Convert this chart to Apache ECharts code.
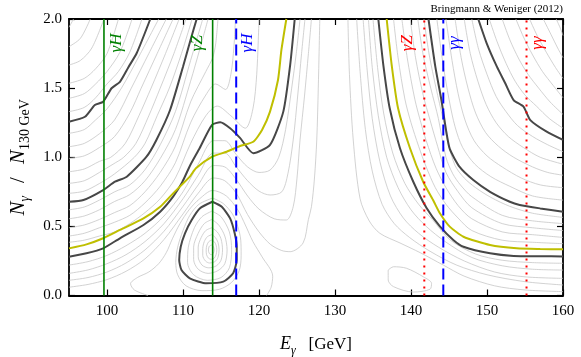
<!DOCTYPE html>
<html><head><meta charset="utf-8">
<script src="https://cdn.jsdelivr.net/npm/echarts@6/dist/echarts.min.js"></script>
<style>html,body{margin:0;padding:0;background:#fff}#c{width:581px;height:357px}</style>
</head><body><div id="c"></div>
<script>
// ---------- axes ----------
const xTickValues = [100,110,120,130,140,150,160];
const yTickValues = [0,0.5,1.0,1.5,2.0];

// ---------- vertical reference lines ----------
const greenLinesX = [99.6, 113.9];
const blueLinesX = [117.0, 144.25];
const redLinesX = [141.75, 155.2];
const greenLabels = ['γH','γZ'];
const blueLabels = ['γH','γγ'];
const redLabels = ['γZ','γγ'];

// ---------- thick dark contours ----------
const darkA = [[95.0,1.257],[97.1,1.293],[98.4,1.378],[99.5,1.402],[100.6,1.499],[101.7,1.546],[102.8,1.65],[103.9,1.752],[105.7,2.0]];
const darkB = [[95.0,0.678],[96.9,0.691],[99.5,0.763],[101.05,0.823],[102.6,0.859],[105.2,1.004],[106.5,1.125],[108.3,1.342],[110.0,1.655],[111.0,1.85],[111.8,2.0]];
const darkC = [[95.0,0.281],[97.3,0.305],[99.5,0.341],[101.7,0.414],[104.8,0.510],[107.0,0.606],[108.7,0.715],[109.9,0.82],[110.9,0.937],[112.2,1.067],[113.8,1.233],[114.9,1.253],[116.2,1.21],[117.5,1.14],[119.25,1.029],[121.45,1.089],[123.2,1.33],[124.1,1.667],[124.7,2.0]];
const darkLoop = [[113.86,0.678],[112.24,0.631],[111.14,0.546],[110.26,0.450],[109.7,0.353],[109.5,0.257],[109.8,0.184],[110.9,0.124],[113.1,0.088],[115.3,0.100],[116.6,0.161],[117.07,0.257],[117.07,0.353],[116.8,0.450],[116.2,0.558],[115.1,0.642],[113.86,0.678]];
const darkD = [[135.7,2.0],[136.36,1.667],[137.2,1.354],[138.55,1.065],[140.3,0.823],[142.07,0.631],[143.8,0.50],[145.6,0.40],[146.9,0.353],[150.4,0.305],[153.5,0.286],[157,0.284],[160,0.283]];
const darkE = [[142.3,2.0],[143.2,1.655],[144.0,1.414],[144.6,1.2],[145.1,1.06],[146.4,0.93],[148.2,0.835],[150.4,0.75],[153.0,0.678],[154.3,0.655],[157.0,0.63],[160,0.606]];
const darkF = [[148.85,2.0],[149.96,1.824],[151.3,1.655],[152.4,1.535],[153.5,1.414],[154.8,1.366],[155.7,1.269],[157.85,1.185],[160,1.125]];

// ---------- yellow contour ----------
const yellowLeft = [[95.0,0.341],[97.3,0.37],[99.5,0.414],[101.7,0.474],[104.8,0.558],[107.0,0.642],[108.7,0.739],[110.9,0.86],[111.7,0.92],[113.85,1.004],[115.75,1.040],[117.5,1.081],[119.25,1.112],[120.4,1.197],[121.45,1.33],[122.5,1.559],[122.95,1.776],[123.6,2.0]];
const yellowRight = [[136.8,2.0],[137.46,1.667],[138.3,1.354],[139.87,1.065],[141.6,0.823],[143.0,0.68],[143.8,0.595],[145.1,0.498],[146.9,0.425],[150.4,0.365],[153.9,0.341],[157,0.336],[160,0.334]];

// ---------- thin grey contours ----------
const greyUpperLeft = [
  [[95,1.94],[95.6,2.0]],
  [[95,1.80],[96.5,1.86],[97.8,2.0]],
  [[95,1.667],[96.5,1.70],[98,1.79],[99.6,2.0]],
  [[95,1.535],[97,1.57],[98.5,1.64],[100,1.75],[101.5,2.0]],
  [[95,1.426],[97,1.46],[98.5,1.53],[100,1.62],[101.7,1.76],[103.3,2.0]],
  [[95,1.33],[97,1.36],[98.5,1.43],[100,1.53],[101.5,1.62],[103,1.76],[104.6,2.0]]
];
const greyMidLeft = [
  [[95,1.173],[97,1.20],[98.5,1.27],[100,1.35],[101.9,1.5],[104.4,1.75],[106.8,2.0]],
  [[95,1.076],[97,1.10],[99,1.17],[101,1.27],[103.2,1.5],[105.5,1.75],[107.8,2.0]],
  [[95,0.992],[97,1.01],[99,1.07],[101,1.15],[103,1.32],[104.5,1.5],[106.6,1.75],[108.7,2.0]],
  [[95,0.895],[97,0.915],[99,0.97],[100.5,1.0],[102.4,1.1],[104.2,1.3],[105.8,1.5],[107.7,1.75],[109.5,2.0]],
  [[95,0.811],[97,0.83],[99,0.89],[100.8,0.95],[102.2,1.0],[103.8,1.1],[105.5,1.3],[107.0,1.5],[108.8,1.75],[110.4,2.0]],
  [[95,0.739],[97,0.755],[99,0.81],[101,0.88],[103.6,1.0],[105,1.1],[106.6,1.3],[108.2,1.5],[109.8,1.75],[111.2,2.0]]
];
const greyLowLeft = [
  [[95,0.62],[97,0.64],[99,0.69],[101,0.75],[103,0.80],[105,0.91],[107,1.09],[109,1.33],[111,1.7],[112.6,2.0]],
  [[95,0.555],[97,0.575],[99,0.62],[101,0.68],[103,0.73],[105,0.83],[107,0.99],[109,1.2],[111,1.55],[112.2,1.78],[113.3,2.0]],
  [[95,0.49],[97,0.51],[99,0.55],[101,0.60],[103,0.65],[105,0.75],[107,0.89],[109,1.08],[111,1.40],[113,1.62],[113.9,1.72],[114.3,1.82],[114.6,2.0]],
  [[95,0.43],[97,0.45],[99,0.49],[101,0.53],[103,0.58],[105,0.67],[107,0.79],[109,0.96],[111,1.25],[113,1.45],[114.3,1.53],[115.6,1.49],[116.3,1.6],[116.7,1.8],[116.9,2.0]],
  [[95,0.385],[97,0.40],[99,0.43],[101,0.46],[103,0.52],[105,0.60],[107,0.70],[109,0.85],[111,1.10],[113,1.30],[114.5,1.37],[116.3,1.30],[118.2,1.21],[119.2,1.35],[119.7,1.6],[120.0,2.0]]
];
const greyBelowC = [
  [[95,0.22],[97.5,0.245],[100,0.29],[102.5,0.36],[105,0.45],[107.5,0.575],[110,0.75],[112,0.95],[114,1.12],[115.5,1.12],[117,1.02],[118.5,0.93],[120,0.89],[121.45,0.907],[122.6,1.0],[123.5,1.2],[124.3,1.5],[124.9,1.75],[125.4,2.0]],
  [[95,0.16],[97.5,0.185],[100,0.23],[102.5,0.295],[105,0.39],[107.5,0.52],[110,0.70],[112,0.87],[114,1.03],[115.5,1.03],[117,0.93],[118.5,0.83],[120,0.755],[121.45,0.727],[123.0,0.75],[123.8,0.88],[124.5,1.125],[125.1,1.45],[125.6,1.75],[126.05,2.0]],
  [[95,0.11],[97.5,0.13],[100,0.17],[102.5,0.235],[105,0.33],[107.5,0.465],[110,0.645],[112,0.80],[114,0.94],[115.5,0.93],[117,0.84],[118.5,0.72],[120,0.625],[122,0.555],[123.6,0.546],[124.5,0.642],[125.0,0.85],[125.4,1.125],[126.0,1.45],[126.5,1.75],[126.9,2.0]],
  [[95,0.06],[97.5,0.08],[100,0.115],[102.5,0.175],[105,0.265],[107.5,0.405],[110,0.59],[112,0.74],[114,0.85],[115.5,0.83],[117,0.74],[118.5,0.585],[120,0.46],[121.5,0.37],[123,0.325],[124.1,0.317],[125.8,0.38],[126.5,0.55],[126.9,0.642],[127.3,0.85],[127.6,1.125],[127.8,1.5],[128.0,2.0]]
];
const greyArch = [[105.4,0.0],[103.6,0.04],[103.1,0.085],[104.0,0.13],[105.5,0.17],[106.8,0.23],[107.8,0.31],[108.6,0.41],[109.6,0.52],[110.8,0.62],[112.2,0.70],[113.9,0.76],[115.7,0.72],[117.2,0.62],[118.2,0.51],[119.2,0.39],[120.4,0.28],[121.8,0.14],[121.6,0.06],[121.0,0.0]];
const greyLoopOuter = [[113.9,0.705],[112.1,0.66],[110.9,0.58],[110.0,0.47],[109.3,0.35],[109.05,0.24],[109.3,0.15],[110.4,0.07],[112.5,0.035],[114.8,0.045],[116.4,0.095],[117.4,0.18],[117.65,0.29],[117.6,0.40],[117.2,0.50],[116.5,0.59],[115.3,0.665],[113.9,0.705]];
const greyLoopInner = [
  [[113.8,0.61],[112.5,0.57],[111.5,0.49],[110.7,0.35],[110.6,0.24],[111.4,0.15],[113.2,0.11],[115.0,0.13],[116.1,0.2],[116.4,0.33],[116.1,0.46],[115.0,0.57],[113.8,0.61]],
  [[113.8,0.55],[112.8,0.52],[112.0,0.45],[111.4,0.35],[111.4,0.26],[112.0,0.19],[113.3,0.16],[114.6,0.18],[115.5,0.23],[115.8,0.33],[115.5,0.43],[114.7,0.51],[113.8,0.55]],
  [[113.8,0.49],[113.0,0.47],[112.4,0.42],[112.0,0.35],[112.0,0.28],[112.5,0.22],[113.4,0.2],[114.4,0.215],[115.0,0.255],[115.2,0.33],[115.0,0.41],[114.5,0.46],[113.8,0.49]],
  [[113.8,0.44],[113.2,0.425],[112.8,0.39],[112.6,0.34],[112.6,0.29],[112.95,0.25],[113.5,0.235],[114.2,0.245],[114.6,0.275],[114.75,0.33],[114.6,0.385],[114.25,0.42],[113.8,0.44]],
  [[113.75,0.40],[113.4,0.39],[113.15,0.365],[113.05,0.33],[113.1,0.295],[113.35,0.27],[113.7,0.262],[114.1,0.27],[114.35,0.295],[114.45,0.33],[114.35,0.365],[114.1,0.39],[113.75,0.40]],
  [[113.72,0.365],[113.45,0.355],[113.35,0.33],[113.45,0.305],[113.72,0.295],[114.0,0.305],[114.1,0.33],[114.0,0.355],[113.72,0.365]]
];
const greyRightInner = [
  [[135.0,2.0],[135.6,1.65],[136.4,1.32],[137.6,1.03],[139.2,0.81],[141.0,0.66],[142.8,0.55],[145.2,0.40],[148.5,0.30],[152,0.255],[156,0.238],[160,0.233]],
  [[134.4,2.0],[134.9,1.65],[135.7,1.30],[136.8,1.0],[138.3,0.78],[140.0,0.62],[142.0,0.50],[144.5,0.39],[148,0.275],[152,0.215],[156,0.19],[160,0.184]],
  [[133.7,2.0],[134.2,1.65],[134.9,1.28],[135.9,0.97],[137.3,0.72],[139.0,0.56],[141.0,0.45],[143.6,0.35],[147,0.25],[151,0.17],[155,0.135],[160,0.124]],
  [[132.85,2.0],[133.3,1.62],[134.0,1.2],[134.9,0.9],[136.2,0.66],[137.8,0.52],[139.8,0.42],[142.5,0.32],[146,0.22],[150,0.15],[155,0.1],[160,0.076]],
  [[131.7,2.0],[131.9,1.6],[132.4,1.125],[133.3,0.70],[134.5,0.54],[135.9,0.45],[138.55,0.38],[141.2,0.31],[144.25,0.22],[147,0.14],[151,0.07],[155,0.04],[160,0.028]]
];
const greySmallLoop = [[137.0,0.184],[137.7,0.208],[139.4,0.197],[141.6,0.136],[142.7,0.088],[142.5,0.045],[140.3,0.025],[137.7,0.064],[137.0,0.112],[137.0,0.184]];
const greyRightMid = [
  [[137.7,2.0],[138.3,1.72],[139.2,1.42],[140.0,1.25],[141.0,1.08],[142.0,0.93],[143.2,0.78],[144.6,0.66],[146.2,0.56],[148,0.47],[152,0.40],[156,0.385],[160,0.375]],
  [[138.8,2.0],[139.5,1.72],[140.5,1.42],[141.3,1.25],[142.0,1.12],[143.3,0.92],[144.6,0.78],[146.2,0.65],[148,0.555],[152,0.46],[156,0.44],[160,0.42]],
  [[139.9,2.0],[140.6,1.72],[141.6,1.45],[142.5,1.27],[143.5,1.08],[144.6,0.89],[146.2,0.75],[148,0.635],[152,0.52],[156,0.49],[160,0.47]],
  [[140.9,2.0],[141.6,1.74],[142.6,1.50],[143.6,1.28],[144.6,1.0],[145.5,0.88],[146.5,0.80],[148,0.715],[152,0.58],[156,0.54],[160,0.52]],
  [[141.7,2.0],[142.4,1.74],[143.3,1.50],[144.2,1.28],[144.9,1.1],[145.8,0.94],[147,0.85],[148.5,0.78],[150.5,0.71],[153,0.645],[156,0.595],[160,0.565]]
];
const greyRightE = [
  [[143.4,2.0],[144.2,1.68],[145.0,1.42],[145.8,1.22],[146.8,1.07],[148.4,0.95],[150.5,0.86],[153,0.79],[156,0.72],[160,0.69]],
  [[144.6,2.0],[145.4,1.70],[146.2,1.46],[147.1,1.27],[148.3,1.12],[150,1.01],[152,0.93],[154.5,0.85],[157,0.80],[160,0.78]],
  [[145.8,2.0],[146.6,1.72],[147.5,1.50],[148.5,1.32],[149.8,1.18],[151.5,1.08],[153.5,1.0],[156,0.93],[158,0.89],[160,0.87]],
  [[147.0,2.0],[147.8,1.75],[148.8,1.55],[149.9,1.38],[151.2,1.25],[152.8,1.15],[154.8,1.07],[157,1.0],[160,0.95]],
  [[148.0,2.0],[148.9,1.78],[150.0,1.60],[151.2,1.44],[152.5,1.33],[154.0,1.23],[156,1.15],[158,1.09],[160,1.04]]
];
const greyRightF = [
  [[150.3,2.0],[151.3,1.84],[152.5,1.68],[153.7,1.55],[155,1.45],[156.5,1.37],[158.2,1.28],[160,1.21]],
  [[152.0,2.0],[153.0,1.85],[154.2,1.71],[155.4,1.60],[156.8,1.50],[158.3,1.40],[160,1.31]],
  [[153.8,2.0],[154.8,1.87],[156.0,1.74],[157.3,1.62],[158.7,1.52],[160,1.43]],
  [[155.6,2.0],[156.6,1.88],[157.8,1.76],[159,1.65],[160,1.57]],
  [[157.4,2.0],[158.4,1.89],[159.3,1.79],[160,1.72]],
  [[159.1,2.0],[159.6,1.94],[160,1.88]]
];

// ---------- build chart ----------
const FF = 'Liberation Serif';
const GREY = '#c6c6c6', DARK = '#474747', YEL = '#bfbf00';
const series = [];
function addLines(lines, color, width, z, smooth) {
  lines.forEach(d => series.push({
    type: 'line', data: d, showSymbol: false, symbol: 'none', smooth: smooth,
    lineStyle: { color: color, width: width }, z: z, silent: true, clip: true
  }));
}
addLines([].concat(greyUpperLeft, greyMidLeft, greyLowLeft, greyBelowC, [greyArch, greyLoopOuter], greyLoopInner,
  greyRightInner, [greySmallLoop], greyRightMid, greyRightE, greyRightF), GREY, 0.8, 2, 0.3);
addLines([darkA, darkB, darkC, darkLoop, darkD, darkE, darkF], DARK, 2, 4, 0.2);
addLines([yellowLeft, yellowRight], YEL, 2, 5, 0.2);
function addVLines(xs, color, type, width) {
  xs.forEach(x => series.push({
    type: 'line', data: [[x, 0], [x, 2]], showSymbol: false, symbol: 'none',
    lineStyle: { color: color, width: width, type: type, cap: 'butt' }, z: 6, silent: true
  }));
}
addVLines(greenLinesX, '#008000', 'solid', 1.6);
addVLines(blueLinesX, '#0000ff', [11, 5], 2);
addVLines(redLinesX, '#ff0000', [2, 5], 2);

const axisCommon = {
  type: 'value',
  axisLine: { show: true, onZero: false, lineStyle: { color: '#000', width: 1.8 } },
  axisTick: { show: true, inside: true, length: 6, lineStyle: { color: '#000', width: 1.2 } },
  splitLine: { show: false }
};
const xRich = {
  i: { fontFamily: FF, fontStyle: 'italic', fontSize: 18, lineHeight: 24, color: '#000' },
  s: { fontFamily: FF, fontStyle: 'italic', fontSize: 12, lineHeight: 12, verticalAlign: 'bottom', color: '#000' },
  r: { fontFamily: FF, fontSize: 17, lineHeight: 24, color: '#000' }
};
const yRich = {
  i: { fontFamily: FF, fontStyle: 'italic', fontSize: 21, lineHeight: 28, color: '#000' },
  s: { fontFamily: FF, fontStyle: 'italic', fontSize: 14, lineHeight: 14, verticalAlign: 'bottom', color: '#000' },
  r: { fontFamily: FF, fontSize: 21, lineHeight: 28, color: '#000', padding: [0, 13, 0, 13] },
  t: { fontFamily: FF, fontSize: 14, lineHeight: 14, verticalAlign: 'bottom', color: '#000' }
};
const option = {
  animation: false,
  backgroundColor: '#fff',
  grid: { left: 69, top: 19, width: 494, height: 276.5, containLabel: false, outerBoundsMode: 'none' },
  xAxis: [
    Object.assign({}, axisCommon, {
      position: 'bottom', min: 95, max: 160,
      axisTick: Object.assign({}, axisCommon.axisTick, { customValues: xTickValues }),
      axisLabel: { customValues: xTickValues, fontFamily: FF, fontSize: 15, color: '#000', margin: 8, formatter: v => String(v) },
      name: '{i|E}{s|γ}{r|   [GeV]}', nameLocation: 'middle', nameGap: 37,
      nameTextStyle: { rich: xRich }
    }),
    Object.assign({}, axisCommon, {
      position: 'top', min: 95, max: 160,
      axisTick: Object.assign({}, axisCommon.axisTick, { customValues: xTickValues }),
      axisLabel: { show: false }
    })
  ],
  yAxis: [
    Object.assign({}, axisCommon, {
      position: 'left', min: 0, max: 2, interval: 0.5,
      axisLabel: { fontFamily: FF, fontSize: 15, color: '#000', margin: 7, formatter: v => v.toFixed(1) },
      name: '{i|N}{s|γ}{r|/}{i|N}{t|130 GeV}', nameLocation: 'middle', nameRotate: 90, nameGap: 34,
      nameTextStyle: { rich: yRich }
    }),
    Object.assign({}, axisCommon, {
      position: 'right', min: 0, max: 2, interval: 0.5,
      axisLabel: { show: false }
    })
  ],
  series: series
};
const chart = echarts.init(document.getElementById('c'), null, { renderer: 'canvas' });
chart.setOption(option);

// labels of the vertical lines, placed from the data positions
const labelY = 1.826;
const labelDefs = [];
greenLinesX.forEach((x, i) => labelDefs.push({ x: x, text: greenLabels[i], color: '#008000', dx: i === 0 ? 13 : -15 }));
blueLinesX.forEach((x, i) => labelDefs.push({ x: x, text: blueLabels[i], color: '#0000ff', dx: 11 }));
redLinesX.forEach((x, i) => labelDefs.push({ x: x, text: redLabels[i], color: '#ff0000', dx: i === 0 ? -17 : 11 }));
const py = chart.convertToPixel({ yAxisIndex: 0 }, labelY);
const graphics = labelDefs.map(d => ({
  type: 'text', z: 20,
  x: chart.convertToPixel({ xAxisIndex: 0 }, d.x) + d.dx, y: py,
  rotation: Math.PI / 2,
  style: { text: d.text, fill: d.color, font: 'italic 17px "Liberation Serif"', textAlign: 'center', textVerticalAlign: 'middle' }
}));
graphics.push({
  type: 'text', z: 20, x: 563, y: 15,
  style: { text: 'Bringmann & Weniger (2012)', fill: '#000', font: '11px "Liberation Serif"', textAlign: 'right', textVerticalAlign: 'bottom' }
});
chart.setOption({ graphic: graphics });
</script>
</body></html>
